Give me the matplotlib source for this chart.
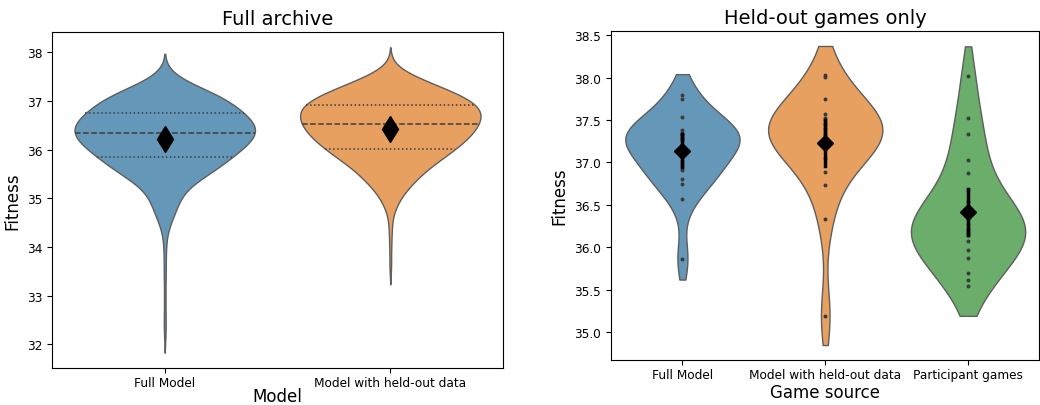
import numpy as np
import matplotlib.pyplot as plt
from matplotlib.colors import to_rgba

# ---- Full archive: fitness values (binned, with estimated counts) ----
full_vals = [37.55, 37.45, 37.35, 37.25, 37.15, 37.05, 36.95, 36.85, 36.75, 36.65,
             36.55, 36.45, 36.35, 36.25, 36.15, 36.05, 35.95, 35.85, 35.75, 35.65,
             35.55, 35.45, 35.35, 35.25, 35.15, 35.05, 34.95, 34.85, 34.75, 34.65,
             34.55, 34.45, 34.35, 34.15, 33.95, 33.65, 33.35, 32.95, 32.55, 32.25]
full_counts = [3, 4, 8, 13, 18, 21, 22, 24, 26, 28,
               30, 31, 31, 30, 28, 26, 24, 22, 20, 18,
               16, 13, 10, 8, 6, 5, 5, 4, 4, 3,
               2, 2, 1, 1, 1, 1, 1, 1, 1, 1]

heldout_vals = [37.72, 37.62, 37.52, 37.42, 37.32, 37.22, 37.12, 37.02, 36.92, 36.82,
                36.72, 36.62, 36.52, 36.42, 36.32, 36.22, 36.12, 36.02, 35.92, 35.82,
                35.72, 35.62, 35.52, 35.42, 35.32, 35.22, 35.12, 35.02, 34.92, 34.82,
                34.72, 34.52, 34.32, 34.02, 33.62]
heldout_counts = [1, 3, 6, 10, 14, 17, 21, 24, 26, 27,
                  27, 26, 26, 25, 24, 22, 21, 19, 17, 15,
                  13, 11, 9, 8, 7, 5, 4, 3, 2, 2,
                  1, 1, 1, 1, 1]

left_labels = ['Full Model', 'Model with held-out data']

# ---- Held-out games only: individual games ----
ho_full = [37.80, 37.75, 37.54, 37.38, 37.35, 37.34, 37.33, 37.32, 37.30, 37.29,
           37.28, 37.26, 37.02, 36.98, 36.95, 36.91, 36.81, 36.74, 36.57, 35.86]
ho_heldout = [38.03, 38.01, 37.75, 37.57, 37.52, 37.50, 37.47, 37.44, 37.41, 37.38,
              37.35, 37.32, 37.28, 37.24, 37.16, 37.05, 36.89, 36.73, 36.33, 35.19]
ho_participant = [38.02, 37.52, 37.34, 37.03, 36.88, 36.68, 36.55, 36.42, 36.33, 36.27,
                  36.23, 36.20, 36.18, 36.16, 36.14, 36.08, 35.97, 35.87, 35.70, 35.62,
                  35.54]

right_labels = ['Full Model', 'Model with held-out data', 'Participant games']

colors = ['#3274a1', '#e1812c', '#3a923a']
edge = '#5e5e5e'


def kde(values, cut):
    values = np.asarray(values, float)
    bw = values.std(ddof=1) * len(values) ** (-1 / 5)
    grid = np.linspace(values.min() - cut * bw, values.max() + cut * bw, 300)
    dens = np.exp(-0.5 * ((grid[:, None] - values[None, :]) / bw) ** 2).sum(axis=1)
    return grid, dens / dens.max()


def violin(ax, pos, values, color, cut, quart=False, points=False, marker='d', ms=10):
    values = np.asarray(values, float)
    grid, dens = kde(values, cut)
    half = 0.4 * dens
    ax.fill_betweenx(grid, pos - half, pos + half, facecolor=to_rgba(color, 0.75),
                     edgecolor=edge, linewidth=1, zorder=1)
    if quart:
        q1, q2, q3 = np.percentile(values, [25, 50, 75])
        for q, ls in [(q1, ':'), (q2, '--'), (q3, ':')]:
            w = np.interp(q, grid, half)
            ax.plot([pos - w, pos + w], [q, q], ls=ls, color='#3d3d3d', lw=1.1, zorder=2)
    if points:
        ax.scatter(np.full(len(values), pos), values, s=8, color='#3a3a3a',
                   linewidths=0, zorder=3)
    m = values.mean()
    ci = 1.96 * values.std(ddof=1) / np.sqrt(len(values))
    ax.plot([pos, pos], [m - ci, m + ci], color='black', lw=2.5, zorder=4)
    ax.plot(pos, m, marker=marker, color='black', ms=ms, zorder=5)


fig = plt.figure(figsize=(10.4, 4.06), dpi=100)
ax1 = fig.add_axes([0.05, 0.0911, 0.4337, 0.8276])
ax2 = fig.add_axes([0.5875, 0.1108, 0.4120, 0.8103])

left_data = [np.repeat(full_vals, full_counts), np.repeat(heldout_vals, heldout_counts)]
for i, d in enumerate(left_data):
    violin(ax1, i, d, colors[i], cut=2, quart=True, marker='d', ms=13)
ax1.set_xlim(-0.5, 1.5)
ax1.set_xticks(range(2))
ax1.set_xticklabels(left_labels)
ax1.set_title('Full archive', fontsize=14)
ax1.set_xlabel('Model', fontsize=12, labelpad=-1)
ax1.set_ylabel('Fitness', fontsize=12)

right_data = [ho_full, ho_heldout, ho_participant]
for i, d in enumerate(right_data):
    violin(ax2, i, d, colors[i], cut=1, points=True, marker='D', ms=8)
ax2.set_xlim(-0.5, 2.5)
ax2.set_xticks(range(3))
ax2.set_xticklabels(right_labels)
ax2.set_title('Held-out games only', fontsize=14)
ax2.set_xlabel('Game source', fontsize=12, labelpad=2)
ax2.set_ylabel('Fitness', fontsize=12)

for ax in (ax1, ax2):
    ax.tick_params(labelsize=8.7)
    ax.tick_params(axis='x', pad=2)

plt.savefig('out.png', dpi=100)
